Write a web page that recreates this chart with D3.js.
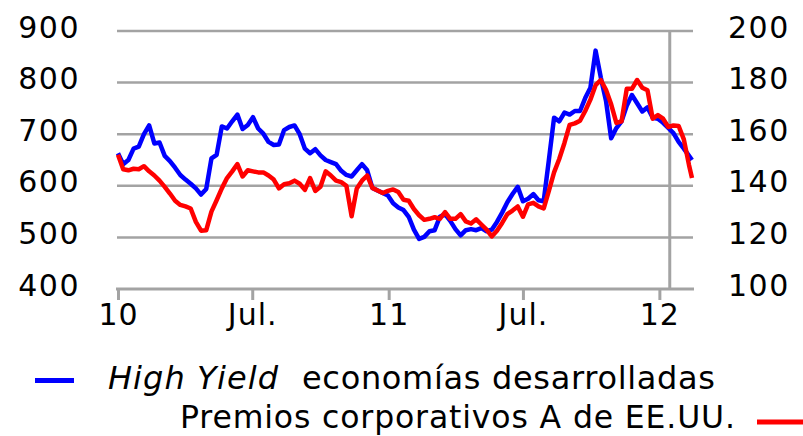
<!DOCTYPE html>
<html>
<head>
<meta charset="utf-8">
<script src="https://cdn.jsdelivr.net/npm/d3@7"></script>
<style>
  body { margin: 0; background: #fff; }
  svg { display: block; font-family: "DejaVu Sans", Verdana, sans-serif; }
</style>
</head>
<body>
<svg width="803" height="436"></svg>
<script>
// weekly observations (Fridays), Jan 2010 - Feb 2012
var dates = [
  "2010-01-01","2010-01-08","2010-01-15","2010-01-22","2010-01-29","2010-02-05","2010-02-12","2010-02-19","2010-02-26",
  "2010-03-05","2010-03-12","2010-03-19","2010-03-26","2010-04-02","2010-04-09","2010-04-16","2010-04-23","2010-04-30",
  "2010-05-07","2010-05-14","2010-05-21","2010-05-28","2010-06-04","2010-06-11","2010-06-18","2010-06-25",
  "2010-07-02","2010-07-09","2010-07-16","2010-07-23","2010-07-30","2010-08-06","2010-08-13","2010-08-20","2010-08-27",
  "2010-09-03","2010-09-10","2010-09-17","2010-09-24","2010-10-01","2010-10-08","2010-10-15","2010-10-22","2010-10-29",
  "2010-11-05","2010-11-12","2010-11-19","2010-11-26","2010-12-03","2010-12-10","2010-12-17","2010-12-24","2010-12-31",
  "2011-01-07","2011-01-14","2011-01-21","2011-01-28","2011-02-04","2011-02-11","2011-02-18","2011-02-25",
  "2011-03-04","2011-03-11","2011-03-18","2011-03-25","2011-04-01","2011-04-08","2011-04-15","2011-04-22","2011-04-29",
  "2011-05-06","2011-05-13","2011-05-20","2011-05-27","2011-06-03","2011-06-10","2011-06-17","2011-06-24",
  "2011-07-01","2011-07-08","2011-07-15","2011-07-22","2011-07-29","2011-08-05","2011-08-12","2011-08-19","2011-08-26",
  "2011-09-02","2011-09-09","2011-09-16","2011-09-23","2011-09-30","2011-10-07","2011-10-14","2011-10-21","2011-10-28",
  "2011-11-04","2011-11-11","2011-11-18","2011-11-25","2011-12-02","2011-12-09","2011-12-16","2011-12-23","2011-12-30",
  "2012-01-06","2012-01-13","2012-01-20","2012-01-27","2012-02-03","2012-02-10","2012-02-14"
];

// High Yield economias desarrolladas (left axis, pb)
var highYield = [
  663,642,650,672,676,700,717,682,684,658,648,635,621,612,604,595,583,594,653,660,715,711,725,738,710,718,
  733,711,701,685,679,680,708,714,717,700,672,663,671,659,650,646,642,629,621,618,630,642,630,596,591,586,581,
  566,558,553,540,515,497,501,512,514,540,545,532,516,504,514,516,514,518,512,515,530,548,568,584,598,570,
  575,584,572,570,650,732,725,742,738,745,745,770,790,862,810,765,692,712,725,755,776,760,744,752,732,730,
  722,712,702,685,672,658,650
];

// Premios corporativos A de EE.UU. (right axis, pb)
var premiosA = [
  152,146.4,146,146.6,146.4,147.6,145.6,144,142,139.6,137,134.2,132.6,132,131.2,126,122.6,122.8,130,134.4,139,143,145.6,148.4,143.6,146,
  145.6,145.2,145.2,144,142.4,139,140.6,141,142,140.8,138.4,143,138,139.6,145.6,144,142,141.4,140,128.2,139,142,144,139.2,138.2,137.2,138,
  138.6,137.6,134.6,134.2,131,128.6,126.8,127.2,127.8,127.2,129.8,127.2,127.2,129,126.2,125.4,127,125,123,120.4,122.6,125.6,129,130.4,132,128,
  132.8,133.4,132,131.2,138,145.2,150.4,156.6,163.6,164.2,165.2,169,173.4,179,181,177.2,171.6,164.4,165,177.6,177.6,181,178,177,166,167.4,
  166,162.8,163.4,163.2,158,148,143
];

var tickDates = ["2010-01-01", "2010-07-01", "2011-01-01", "2011-07-01", "2012-01-01"];
var tickLabels = ["10", "Jul.", "11", "Jul.", "12"];
var leftTicks = [400, 500, 600, 700, 800, 900];
var rightTicks = [100, 120, 140, 160, 180, 200];
var markerDate = "2012-01-15";

var parse = d3.utcParse("%Y-%m-%d");

var svg = d3.select("svg");

var x = d3.scaleUtc()
    .domain([parse(dates[0]), parse(dates[dates.length - 1])])
    .range([118, 692]);
var yL = d3.scaleLinear().domain([400, 900]).range([289, 31]);
var yR = d3.scaleLinear().domain([100, 200]).range([289, 31]);

var grey = "#a3a3a3";

// horizontal gridlines
svg.append("g")
  .selectAll("line")
  .data(leftTicks.slice(1))
  .enter().append("line")
    .attr("x1", 117).attr("x2", 693)
    .attr("y1", function(d) { return yL(d); })
    .attr("y2", function(d) { return yL(d); })
    .attr("stroke", grey)
    .attr("stroke-width", 2.5);

// vertical marker line
svg.append("line")
  .attr("x1", x(parse(markerDate))).attr("x2", x(parse(markerDate)))
  .attr("y1", yL(900)).attr("y2", yL(400))
  .attr("stroke", grey)
  .attr("stroke-width", 3);

// x axis
var xAxis = svg.append("g")
  .attr("transform", "translate(0," + yL(400) + ")")
  .call(d3.axisBottom(x)
    .tickValues(tickDates.map(parse))
    .tickFormat(function(d, i) { return tickLabels[i]; })
    .tickSize(11)
    .tickSizeOuter(0)
    .tickPadding(4));
xAxis.select(".domain").attr("stroke", grey).attr("stroke-width", 3)
  .attr("d", "M116,0H694");
xAxis.selectAll(".tick line").attr("stroke", grey).attr("stroke-width", 3);
xAxis.selectAll("text").attr("font-size", 30).attr("fill", "#000")
  .attr("font-family", "DejaVu Sans").attr("letter-spacing", 1);

// left axis
var lAxis = svg.append("g")
  .attr("transform", "translate(118,0)")
  .call(d3.axisLeft(yL).tickValues(leftTicks).tickSize(0).tickPadding(38));
lAxis.select(".domain").remove();
lAxis.selectAll("text").attr("font-size", 30).attr("fill", "#000").attr("dy", "0.2em")
  .attr("font-family", "DejaVu Sans").attr("letter-spacing", 1.5);

// right axis
var rAxis = svg.append("g")
  .attr("transform", "translate(693,0)")
  .call(d3.axisRight(yR).tickValues(rightTicks).tickSize(0).tickPadding(35));
rAxis.select(".domain").remove();
rAxis.selectAll("text").attr("font-size", 30).attr("fill", "#000").attr("dy", "0.2em")
  .attr("font-family", "DejaVu Sans").attr("letter-spacing", 1.5);

// lines
var lineL = d3.line()
  .x(function(d, i) { return x(parse(dates[i])); })
  .y(function(d) { return yL(d); });
var lineR = d3.line()
  .x(function(d, i) { return x(parse(dates[i])); })
  .y(function(d) { return yR(d); });

svg.append("path")
  .datum(highYield)
  .attr("d", lineL)
  .attr("fill", "none")
  .attr("stroke", "#0000ff")
  .attr("stroke-width", 4.5)
  .attr("stroke-linejoin", "round");

svg.append("path")
  .datum(premiosA)
  .attr("d", lineR)
  .attr("fill", "none")
  .attr("stroke", "#ff0000")
  .attr("stroke-width", 4.5)
  .attr("stroke-linejoin", "round");

// legend
var legend = svg.append("g").attr("font-size", 32).attr("fill", "#000");

legend.append("line")
  .attr("x1", 35).attr("x2", 74).attr("y1", 380.5).attr("y2", 380.5)
  .attr("stroke", "#0000ff").attr("stroke-width", 5);
legend.append("text")
  .attr("x", 108).attr("y", 389)
  .attr("font-style", "italic")
  .attr("textLength", 170)
  .text("High Yield");
legend.append("text")
  .attr("x", 302).attr("y", 389)
  .attr("textLength", 413)
  .text("economías desarrolladas");

legend.append("text")
  .attr("x", 180).attr("y", 427.5)
  .attr("font-size", 31.5)
  .attr("textLength", 555)
  .text("Premios corporativos A de EE.UU.");
legend.append("line")
  .attr("x1", 757).attr("x2", 803).attr("y1", 422).attr("y2", 422)
  .attr("stroke", "#ff0000").attr("stroke-width", 5);
</script>
</body>
</html>
